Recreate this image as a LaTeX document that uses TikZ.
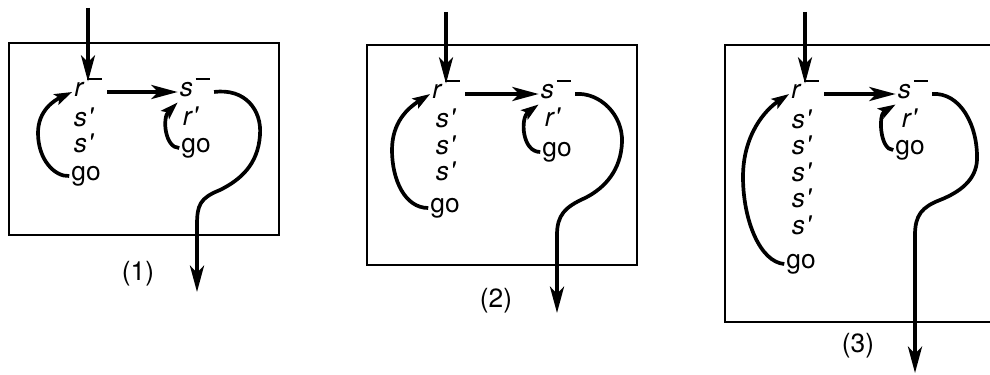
\documentclass[tikz,border=0pt]{standalone}
\usepackage{fontspec}
\setmainfont{TeX Gyre Heros}
\usetikzlibrary{arrows.meta}
\newcommand{\mbar}{\kern1.6pt\rule[0.64em]{0.55em}{0.06em}}
\newcommand{\sprime}{\textit{s\kern0.5pt\textquotesingle}}
\newcommand{\rprime}{\textit{r\kern0.5pt\textquotesingle}}

\begin{document}
\begin{tikzpicture}[x=0.02cm,y=-0.02cm,
  every node/.style={font=\fontsize{15}{17}\selectfont,inner sep=1pt,text height=0.75em,text depth=0.2em},
  frame/.style={line width=1.3pt},
  flow/.style={line width=2.1pt,-{Stealth[length=15pt,width=8pt,inset=4pt]}},
  loopback/.style={line width=2.1pt,-{Stealth[length=10pt,width=6.5pt,inset=2pt]}},
  exit/.style={line width=2.1pt,-{Stealth[length=15pt,width=8pt,inset=4pt]}}]
\useasboundingbox (0,0) rectangle (990,375);

% (1)
\draw[frame] (9,43) rectangle (279,235);
\coordinate (in1) at (88,8);
\coordinate (out1) at (197,292);
\node (rm1) at (88,92) {\textit{r}\mbar};
\node (sm1) at (195,92) {\textit{s}\mbar};
\foreach \y [count=\i] in {122,148}{
\node (sp1-\i) at (84,\y) {\sprime};
}
\node (gol1) at (86,176) {go};
\node (rp1) at (191,121) {\rprime};
\node (gor1) at (196,148) {go};
\node (lab1) at (138,276) {(1)};
\draw[flow] (in1) -- (rm1.north);
\draw[flow,shorten <=2pt] (rm1.east) -- (sm1.west);
\draw[loopback] (gol1.west) .. controls (55,177) and (38,160) .. (38,133) .. controls (38,110) and (55,100) .. (rm1.west);
\draw[loopback] (gor1.west) .. controls (165,148) and (162,118) .. (sm1.south west);
\draw[exit] ([xshift=1pt]sm1.east) .. controls (245,88) and (262,110) .. (260,135) .. controls (258,165) and (240,180) .. (220,190) .. controls (200,198) and (197,205) .. (197,225) -- (out1);

% (2)
\draw[frame] (367,45) rectangle (637,265);
\coordinate (in2) at (446,12);
\coordinate (out2) at (557,313);
\node (rm2) at (446,94) {\textit{r}\mbar};
\node (sm2) at (556,94) {\textit{s}\mbar};
\foreach \y [count=\i] in {123,150,176}{
\node (sp2-\i) at (446,\y) {\sprime};
}
\node (gol2) at (445,208) {go};
\node (rp2) at (553,122) {\rprime};
\node (gor2) at (557,152) {go};
\node (lab2) at (496,303) {(2)};
\draw[flow] (in2) -- (rm2.north);
\draw[flow,shorten <=2pt] (rm2.east) -- (sm2.west);
\draw[loopback] (gol2.west) .. controls (405,208) and (392,180) .. (392,150) .. controls (392,122) and (408,108) .. (rm2.west);
\draw[loopback] (gor2.west) .. controls (522,152) and (520,118) .. (sm2.south west);
\draw[exit] ([xshift=1pt]sm2.east) .. controls (600,92) and (623,115) .. (622,142) .. controls (621,170) and (605,188) .. (585,198) .. controls (565,207) and (557,215) .. (557,235) -- (out2);

% (3)
\draw[frame] (990,45) -- (725,45) -- (725,322) -- (990,322);
\coordinate (in3) at (805,12);
\coordinate (out3) at (915,373);
\node (rm3) at (805,94) {\textit{r}\mbar};
\node (sm3) at (913,94) {\textit{s}\mbar};
\foreach \y [count=\i] in {124,150,177,203,230}{
\node (sp3-\i) at (802,\y) {\sprime};
}
\node (gol3) at (801,264) {go};
\node (rp3) at (910,123) {\rprime};
\node (gor3) at (910,150) {go};
\node (lab3) at (858,348) {(3)};
\draw[flow] (in3) -- (rm3.north);
\draw[flow,shorten <=2pt] (rm3.east) -- (sm3.west);
\draw[loopback] (gol3.west) .. controls (760,262) and (743,220) .. (743,177) .. controls (743,135) and (765,110) .. (rm3.west);
\draw[loopback] (gor3.west) .. controls (880,150) and (878,115) .. (sm3.south west);
\draw[exit] ([xshift=1pt]sm3.east) .. controls (960,92) and (978,125) .. (977,160) .. controls (976,180) and (960,192) .. (940,200) .. controls (922,207) and (915,215) .. (915,235) -- (out3);
\end{tikzpicture}
\end{document}
